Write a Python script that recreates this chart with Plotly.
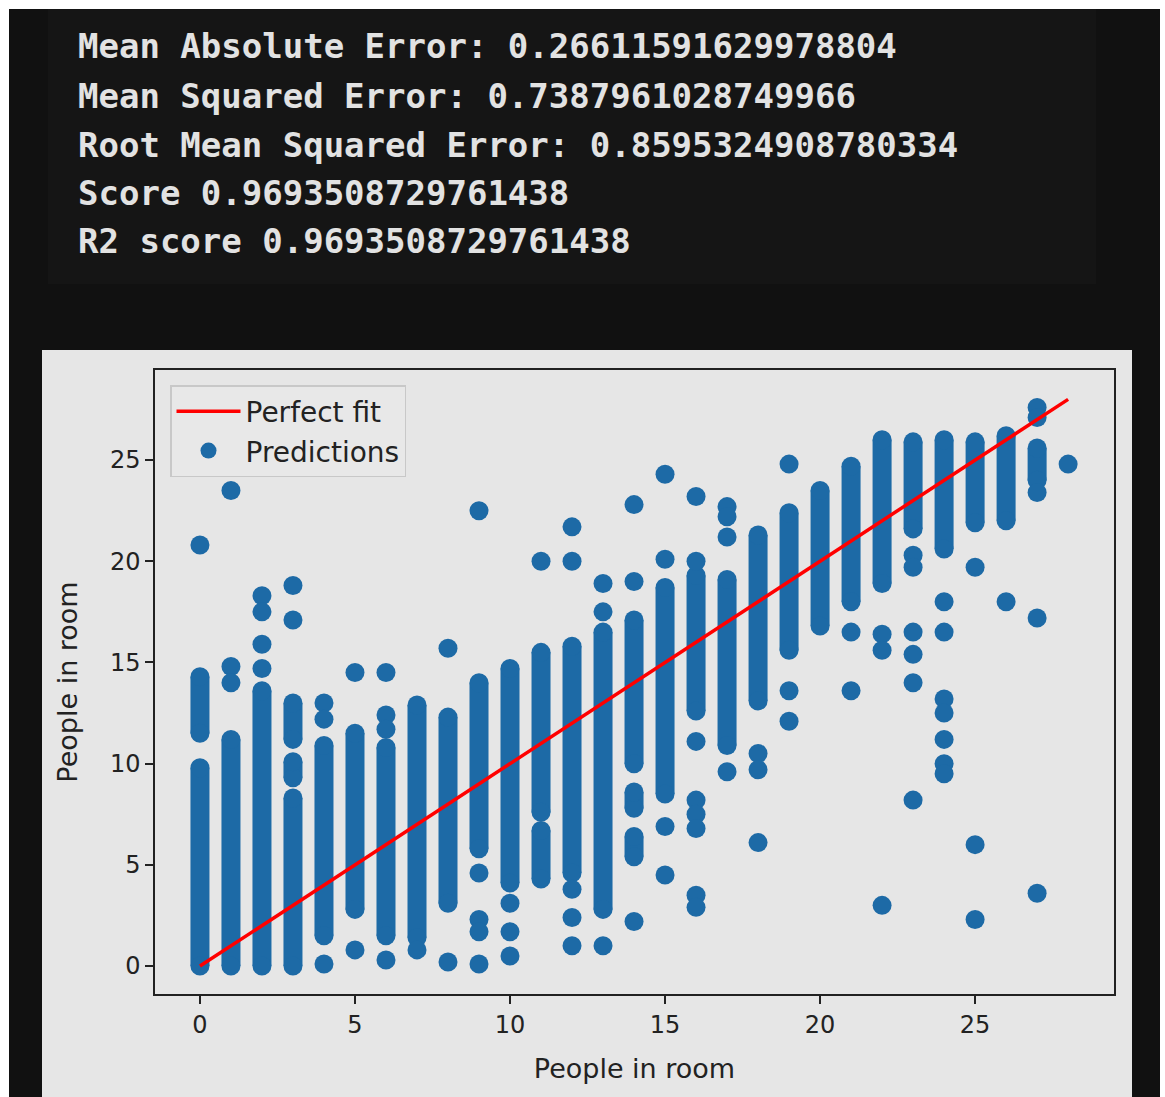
import plotly.graph_objects as go

# ---------------- data ----------------
metric_lines = [
    "Mean Absolute Error: 0.26611591629978804",
    "Mean Squared Error: 0.7387961028749966",
    "Root Mean Squared Error: 0.8595324908780334",
    "Score 0.9693508729761438",
    "R2 score 0.9693508729761438",
]

# dense vertical runs of overlapping predictions: actual value, lowest and highest prediction
run_x = [0, 0, 1, 2, 3, 3, 3, 4, 5, 6, 7, 8, 9, 10, 11, 11, 12, 13, 14, 14, 14,
         15, 16, 17, 18, 19, 20, 21, 22, 23, 24, 25, 26, 27]
run_lo = [0.0, 11.5, 0.0, 0.0, 0.0, 9.3, 11.2, 1.5, 2.8, 1.5, 1.4, 3.1, 5.8, 4.1, 7.6, 4.3, 4.6, 2.8, 10.0, 7.8, 5.4,
          8.5, 12.6, 10.9, 13.1, 15.6, 16.8, 18.0, 18.9, 21.6, 20.6, 21.9, 22.0, 24.0]
run_hi = [9.8, 14.3, 11.2, 13.6, 8.3, 10.1, 13.0, 10.9, 11.5, 10.8, 12.9, 12.3, 14.0, 14.7, 15.5, 6.7, 15.8, 16.5, 17.1, 8.6, 6.4,
          18.7, 19.3, 19.1, 21.3, 22.4, 23.5, 24.7, 26.0, 25.9, 26.0, 25.9, 26.2, 25.6]

# isolated predictions: actual value, predicted value
pt_x = [0,
        1, 1, 1,
        2, 2, 2, 2,
        3, 3,
        4, 4, 4,
        5, 5,
        6, 6, 6, 6,
        7,
        8, 8,
        9, 9, 9, 9, 9,
        10, 10, 10,
        11,
        12, 12, 12, 12, 12,
        13, 13, 13,
        14, 14, 14,
        15, 15, 15, 15,
        16, 16, 16, 16, 16, 16, 16, 16,
        17, 17, 17, 17,
        18, 18, 18,
        19, 19, 19,
        21, 21,
        22, 22, 22,
        23, 23, 23, 23, 23, 23,
        24, 24, 24, 24, 24, 24, 24,
        25, 25, 25,
        26,
        27, 27, 27, 27, 27,
        28]
pt_y = [20.8,
        23.5, 14.8, 14.0,
        18.3, 17.5, 15.9, 14.7,
        18.8, 17.1,
        13.0, 12.2, 0.1,
        14.5, 0.8,
        14.5, 12.4, 11.7, 0.3,
        0.8,
        15.7, 0.2,
        22.5, 4.6, 2.3, 1.7, 0.1,
        3.1, 1.7, 0.5,
        20.0,
        21.7, 20.0, 3.8, 2.4, 1.0,
        18.9, 17.5, 1.0,
        22.8, 19.0, 2.2,
        24.3, 20.1, 6.9, 4.5,
        23.2, 20.0, 11.1, 8.2, 7.5, 6.8, 3.5, 2.9,
        22.7, 22.2, 21.2, 9.6,
        10.5, 9.7, 6.1,
        24.8, 13.6, 12.1,
        16.5, 13.6,
        16.4, 15.6, 3.0,
        20.3, 19.7, 16.5, 15.4, 14.0, 8.2,
        18.0, 16.5, 13.2, 12.5, 11.2, 10.0, 9.5,
        19.7, 6.0, 2.3,
        18.0,
        27.6, 27.1, 23.4, 17.2, 3.6,
        24.8]

fit_x = [0, 28]
fit_y = [0, 28]

tick_vals = [0, 5, 10, 15, 20, 25]
axis_label = "People in room"

# ---------------- layout geometry (pixels) ----------------
W_PX, H_PX = 1165, 1097
PL, PR, PT, PB = 155, 1114, 370, 994
PW, PH = PR - PL, PB - PT


def fx(p):
    return (p - PL) / PW


def fy(p):
    return (PB - p) / PH


BLUE = "#1d6aa6"
DOT = 19

fig = go.Figure()

# runs of overlapping dots
rx, ry = [], []
for c, lo, hi in zip(run_x, run_lo, run_hi):
    rx += [c, c, None]
    ry += [lo, hi, None]
fig.add_trace(go.Scatter(
    x=rx, y=ry, mode="lines+markers",
    line=dict(color=BLUE, width=DOT),
    marker=dict(color=BLUE, size=DOT),
    showlegend=False, hoverinfo="skip",
))

fig.add_trace(go.Scatter(
    x=pt_x, y=pt_y, mode="markers", name="Predictions",
    marker=dict(color=BLUE, size=DOT), legendrank=2,
))

fig.add_trace(go.Scatter(
    x=fit_x, y=fit_y, mode="lines", name="Perfect fit",
    line=dict(color="#ff0000", width=3.5), legendrank=1,
))

shapes = [
    dict(type="rect", xref="paper", yref="paper", layer="below",
         x0=fx(9), x1=fx(1160), y0=fy(1100), y1=fy(9),
         fillcolor="#111111", line=dict(width=0)),
    dict(type="rect", xref="paper", yref="paper", layer="below",
         x0=fx(48), x1=fx(1096), y0=fy(284), y1=fy(9),
         fillcolor="#151515", line=dict(width=0)),
    dict(type="rect", xref="paper", yref="paper", layer="below",
         x0=fx(42), x1=fx(1132), y0=fy(1100), y1=fy(350),
         fillcolor="#e6e6e6", line=dict(width=0)),
]

line_centres = [46, 96, 145, 193, 241]
annotations = []
for txt, yc in zip(metric_lines, line_centres):
    annotations.append(dict(
        text="<b>" + txt + "</b>", xref="paper", yref="paper", x=fx(76), y=fy(yc),
        xanchor="left", yanchor="middle", showarrow=False,
        font=dict(family="DejaVu Sans Mono", size=34, color="#e2e2e2"),
    ))

axis_common = dict(
    showgrid=False, zeroline=False,
    showline=True, linecolor="#222222", linewidth=1.5, mirror=True,
    ticks="outside", ticklen=8, tickwidth=1.5, tickcolor="#222222",
    tickvals=tick_vals,
    tickfont=dict(family="DejaVu Sans", size=24, color="#222222"),
)

fig.update_layout(
    width=W_PX, height=H_PX,
    margin=dict(l=PL, r=W_PX - PR, t=PT, b=H_PX - PB, pad=0),
    paper_bgcolor="#ffffff",
    plot_bgcolor="#e6e6e6",
    shapes=shapes,
    annotations=annotations,
    xaxis=dict(range=[-1.45, 29.48],
               title=dict(text=axis_label, standoff=22,
                          font=dict(family="DejaVu Sans", size=27, color="#222222")),
               **axis_common),
    yaxis=dict(range=[-1.38, 29.45],
               title=dict(text=axis_label, standoff=24,
                          font=dict(family="DejaVu Sans", size=27, color="#222222")),
               **axis_common),
    legend=dict(x=fx(170), y=fy(385), xanchor="left", yanchor="top",
                bgcolor="#e8e8e8", bordercolor="#c8c8c8", borderwidth=1.5,
                font=dict(family="DejaVu Sans", size=28, color="#222222"),
                traceorder="normal", itemwidth=64),
    showlegend=True,
)

fig.write_html("out.html")
